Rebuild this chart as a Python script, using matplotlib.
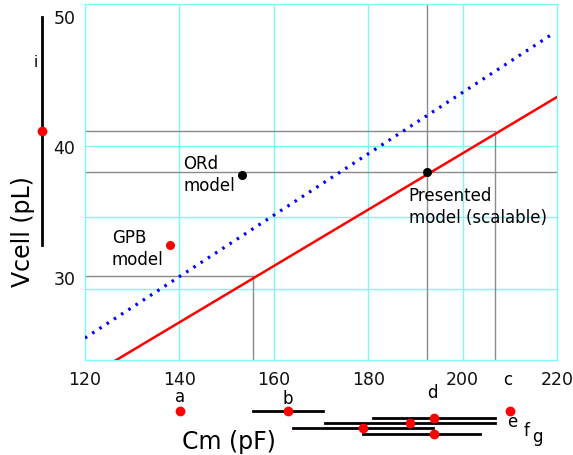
import matplotlib.pyplot as plt
import numpy as np

# fitted lines (Cm in pF -> Vcell in pL)
red_cm = [120, 220]
red_v = [22.31, 43.85]
blue_cm = [120, 219]
blue_v = [25.42, 48.66]

# model points
model_names = ["GPB\nmodel", "ORd\nmodel", "Presented\nmodel (scalable)"]
model_cm = [138.0, 153.3, 192.5]
model_v = [32.53, 37.88, 38.11]
model_col = ["red", "black", "black"]
name_xy = [(125.7, 33.75), (140.8, 39.45), (188.6, 37.0)]

# guide lines
guide_v = [30.16, 41.25]
guide_cm = [155.6, 206.9]
present_cm, present_v = 192.5, 38.11

# cyan grid
grid_x = [140, 160, 180, 200]
grid_y = [29.17, 34.67, 40.1]

# Cm estimates shown below the axis
cm_labels = ["a", "b", "c", "d", "e", "f", "g"]
cm_mean = [140.1, 163.0, 210.0, 193.9, 188.9, 178.9, 193.9]
cm_lo = [None, 155.6, None, 181.0, 170.8, 164.1, 178.9]
cm_hi = [None, 170.4, None, 206.9, 206.9, 193.7, 203.7]
cm_row = [-0.143, -0.143, -0.143, -0.162, -0.177, -0.191, -0.208]
lab_xy = [(140.1, -0.105), (163.0, -0.11), (209.5, -0.056), (193.6, -0.093),
          (210.5, -0.174), (213.5, -0.199), (215.8, -0.216)]

# Vcell estimate (i) drawn left of the axis
i_cm = 110.9
i_lo, i_hi, i_mean = 32.53, 49.96, 41.25

fig = plt.figure(figsize=(5.73, 4.55), dpi=100)
ax = fig.add_axes([0.1483, 0.2088, 0.8238, 0.7824])
ax.set_xlim(120, 220)
ax.set_ylim(23.74, 50.96)

cyan = "#7ff7f7"
for gx in grid_x:
    ax.axvline(gx, color=cyan, lw=1.0, zorder=1)
for gy in grid_y:
    ax.axhline(gy, color=cyan, lw=1.0, zorder=1)
for s in ax.spines.values():
    s.set_color(cyan)
    s.set_linewidth(1.0)

gray = "#8a8a8a"
ax.plot([120, guide_cm[0]], [guide_v[0], guide_v[0]], color=gray, lw=1, zorder=2)
ax.plot([guide_cm[0], guide_cm[0]], [23.74, guide_v[0]], color=gray, lw=1, zorder=2)
ax.plot([120, guide_cm[1]], [guide_v[1], guide_v[1]], color=gray, lw=1, zorder=2)
ax.plot([guide_cm[1], guide_cm[1]], [23.74, guide_v[1]], color=gray, lw=1, zorder=2)
ax.axhline(present_v, color=gray, lw=1, zorder=2)
ax.axvline(present_cm, color=gray, lw=1, zorder=2)

ax.plot(red_cm, red_v, color="red", lw=1.8, zorder=3)
ax.plot(blue_cm, blue_v, color="blue", lw=2.3, linestyle=(0, (0.8, 1.9)), zorder=3)

for cm, v, c in zip(model_cm, model_v, model_col):
    ax.plot(cm, v, "o", color=c, ms=5.5, zorder=4)
for name, (tx, ty) in zip(model_names, name_xy):
    ax.text(tx, ty, name, fontsize=12, ha="left", va="top", linespacing=1.3)

ax.set_xticks([120, 140, 160, 180, 200, 220])
ax.set_yticks([30, 40, 50])
ax.tick_params(length=0, labelsize=12.5, colors="#111111")
ax.tick_params(axis="x", pad=8)
ax.tick_params(axis="y", pad=7)

# below-axis estimates
tr = ax.get_xaxis_transform()
for name, m, lo, hi, r, (lx, ly) in zip(cm_labels, cm_mean, cm_lo, cm_hi, cm_row, lab_xy):
    if lo is not None:
        ax.plot([lo, hi], [r, r], color="black", lw=2, transform=tr, clip_on=False, zorder=3)
    ax.plot(m, r, "o", color="red", ms=6, transform=tr, clip_on=False, zorder=4)
    ax.text(lx, ly, name, fontsize=12, ha="center", va="center", transform=tr)

# left-of-axis estimate
ax.plot([i_cm, i_cm], [i_lo, i_hi], color="black", lw=2, clip_on=False)
ax.plot(i_cm, i_mean, "o", color="red", ms=6, clip_on=False, zorder=4)
ax.text(109.5, 46.5, "i", fontsize=11, ha="center", va="center")

fig.text(0.04, 0.49, "Vcell (pL)", fontsize=17, rotation=90, ha="center", va="center")
fig.text(0.40, 0.028, "Cm (pF)", fontsize=17, ha="center", va="center")

fig.savefig("out.png", dpi=100)
